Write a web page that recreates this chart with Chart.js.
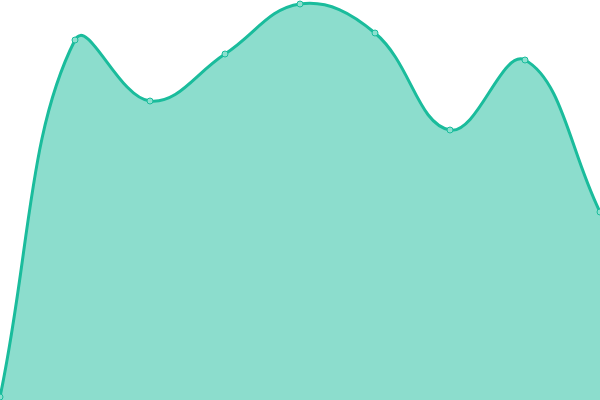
<!DOCTYPE html>
<html>
<head>
<meta charset="utf-8">
<script src="https://cdn.jsdelivr.net/npm/chart.js@4"></script>
<style>
    html, body { margin: 0; padding: 0; background: #fff; }
    #wrap { width: 600px; height: 400px; }
</style>
</head>
<body>
<div id="wrap"><canvas id="areaChart"></canvas></div>
<script>
// Datos (escala 0-400)
const etiquetas = ['1', '2', '3', '4', '5', '6', '7', '8', '9'];
const valores = [3, 360, 299, 346, 396, 367, 270, 340, 188];

const areaCtx = document.getElementById('areaChart').getContext('2d');
new Chart(areaCtx, {
    type: 'line',
    data: {
        labels: etiquetas,
        datasets: [{
            data: valores,
            borderColor: '#1abc9c',
            backgroundColor: 'rgba(26, 188, 156, 0.5)',
            borderWidth: 3,
            fill: 'origin',
            tension: 0.4,
            pointRadius: 3,
            pointBackgroundColor: 'rgba(140, 224, 207, 1)',
            pointBorderColor: '#1abc9c',
            pointBorderWidth: 1,
            clip: false
        }]
    },
    options: {
        responsive: true,
        maintainAspectRatio: false,
        animation: false,
        layout: { padding: 0, autoPadding: false },
        plugins: {
            legend: { display: false },
            tooltip: { enabled: false }
        },
        scales: {
            x: { display: false },
            y: { display: false, min: 0, max: 400 }
        }
    }
});
</script>
</body>
</html>
